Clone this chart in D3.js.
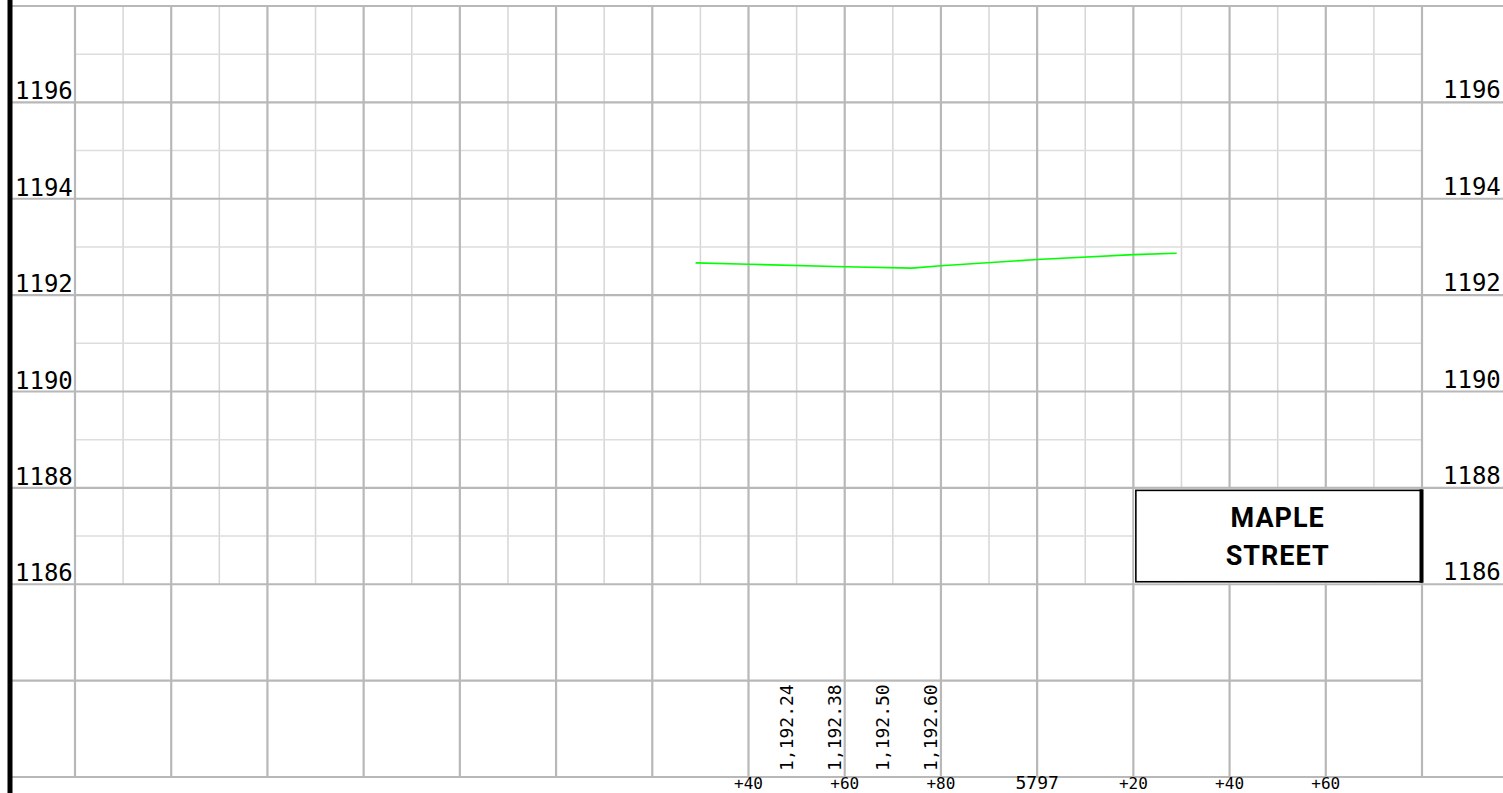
<!DOCTYPE html>
<html>
<head>
<meta charset="utf-8">
<script src="https://cdn.jsdelivr.net/npm/d3@7"></script>
<style>
body { margin: 0; background: #fff; overflow: hidden; }
svg { display: block; }
.num { font-family: "DejaVu Sans Mono", monospace; fill: #000; }
.street { font-family: Roboto, sans-serif; font-weight: 700; fill: #000; }
</style>
</head>
<body>
<div id="chart"></div>
<script>

// profile grade line (station in ft, elevation in ft)
var gradeStations = [579629, 579640, 579660, 579674, 579680, 579700, 579720, 579729];
var gradeElevations = [1192.67, 1192.64, 1192.59, 1192.56, 1192.61, 1192.74, 1192.84, 1192.87];

// elevation labels on both sides
var elevLabels = [1186, 1188, 1190, 1192, 1194, 1196];

// station labels along the bottom
var stationLabels = [579640, 579660, 579680, 579700, 579720, 579740, 579760];

// elevations written in the lower band
var padStations = [579650, 579660, 579670, 579680];
var padElevations = ["1,192.24", "1,192.38", "1,192.50", "1,192.60"];

var streetName = ["MAPLE", "STREET"];

var width = 1503, height = 793;

var x = d3.scaleLinear().domain([579500, 579780]).range([75, 1422]);
var y = d3.scaleLinear().domain([1182, 1198]).range([777, 6]);

var svg = d3.select("#chart").append("svg")
	.attr("width", width)
	.attr("height", height);

var g = svg.append("g");

// minor grid (10 ft / 1 ft), only in the profile area
g.selectAll("line.minorV")
	.data(d3.range(579510, 579780, 20)).enter()
	.append("line")
		.attr("class", "minorV")
		.attr("x1", function(d){ return x(d); })
		.attr("x2", function(d){ return x(d); })
		.attr("y1", y(1198))
		.attr("y2", y(1186))
		.attr("stroke", "#d6d6d6")
		.attr("stroke-width", 1.5);

g.selectAll("line.minorH")
	.data(d3.range(1187, 1198, 2)).enter()
	.append("line")
		.attr("class", "minorH")
		.attr("x1", x(579500))
		.attr("x2", x(579780))
		.attr("y1", function(d){ return y(d); })
		.attr("y2", function(d){ return y(d); })
		.attr("stroke", "#dddddd")
		.attr("stroke-width", 1.5);

// major grid (20 ft / 2 ft)
g.selectAll("line.majorV")
	.data(d3.range(579500, 579781, 20)).enter()
	.append("line")
		.attr("class", "majorV")
		.attr("x1", function(d){ return x(d); })
		.attr("x2", function(d){ return x(d); })
		.attr("y1", y(1198))
		.attr("y2", y(1182))
		.attr("stroke", "#b8b8b8")
		.attr("stroke-width", 2.2);

g.selectAll("line.majorH")
	.data(d3.range(1182, 1199, 2)).enter()
	.append("line")
		.attr("class", "majorH")
		.attr("x1", 12)
		.attr("x2", function(d){ return d == 1184 ? x(579780) : width; })
		.attr("y1", function(d){ return y(d); })
		.attr("y2", function(d){ return y(d); })
		.attr("stroke", "#b8b8b8")
		.attr("stroke-width", 2.2);

// left border
svg.append("line")
	.attr("x1", 10).attr("x2", 10)
	.attr("y1", 0).attr("y2", height)
	.attr("stroke", "#000")
	.attr("stroke-width", 5);

// grade line
var line = d3.line()
	.x(function(d){ return x(d[0]); })
	.y(function(d){ return y(d[1]); });

svg.append("path")
	.datum(d3.zip(gradeStations, gradeElevations))
	.attr("d", line)
	.attr("fill", "none")
	.attr("stroke", "#00ff00")
	.attr("stroke-width", 1.6);

// street name box
var bx0 = x(579720), bx1 = x(579780), by0 = y(1188), by1 = y(1186);
svg.append("rect")
	.attr("x", bx0 + 1).attr("y", by0 + 1)
	.attr("width", bx1 - bx0 - 2).attr("height", by1 - by0 - 2)
	.attr("fill", "#fff");
svg.append("rect")
	.attr("x", bx0 + 2.5).attr("y", by0 + 2.5)
	.attr("width", bx1 - bx0 - 3.5).attr("height", by1 - by0 - 5)
	.attr("fill", "none")
	.attr("stroke", "#000")
	.attr("stroke-width", 1.6);
svg.append("line")
	.attr("x1", bx1 - 0.5).attr("x2", bx1 - 0.5)
	.attr("y1", by0 + 1.5).attr("y2", by1 - 1.5)
	.attr("stroke", "#000")
	.attr("stroke-width", 4);

svg.selectAll("text.street")
	.data(streetName).enter()
	.append("text")
		.attr("class", "street")
		.attr("x", (bx0 + bx1) / 2)
		.attr("y", function(d,i){ return by0 + 39 + i * 38; })
		.attr("text-anchor", "middle")
		.style("font-size", "27px")
		.style("letter-spacing", "1px")
		.text(function(d){ return d; });

// elevation labels, left and right
svg.selectAll("text.elevL")
	.data(elevLabels).enter()
	.append("text")
		.attr("class", "num elevL")
		.attr("x", 15)
		.attr("y", function(d){ return y(d) - 3; })
		.style("font-size", "24px")
		.text(function(d){ return d; });

svg.selectAll("text.elevR")
	.data(elevLabels).enter()
	.append("text")
		.attr("class", "num elevR")
		.attr("x", 1443)
		.attr("y", function(d){ return y(d) - 4; })
		.style("font-size", "24px")
		.text(function(d){ return d; });

// station labels
svg.selectAll("text.sta")
	.data(stationLabels).enter()
	.append("text")
		.attr("class", "num sta")
		.attr("x", function(d){ return x(d); })
		.attr("y", 789)
		.attr("text-anchor", "middle")
		.style("font-size", function(d){ return d % 100 == 0 ? "18px" : "16px"; })
		.text(function(d){
			var r = d % 100;
			return r == 0 ? Math.floor(d / 100) : "+" + d3.format("02d")(r);
		});

// vertical elevation values
svg.selectAll("text.pad")
	.data(padStations).enter()
	.append("text")
		.attr("class", "num pad")
		.attr("transform", function(d){ return "translate(" + (x(d) - 4) + ",771) rotate(-90)"; })
		.style("font-size", "18px")
		.text(function(d,i){ return padElevations[i]; });

</script>
</body>
</html>
